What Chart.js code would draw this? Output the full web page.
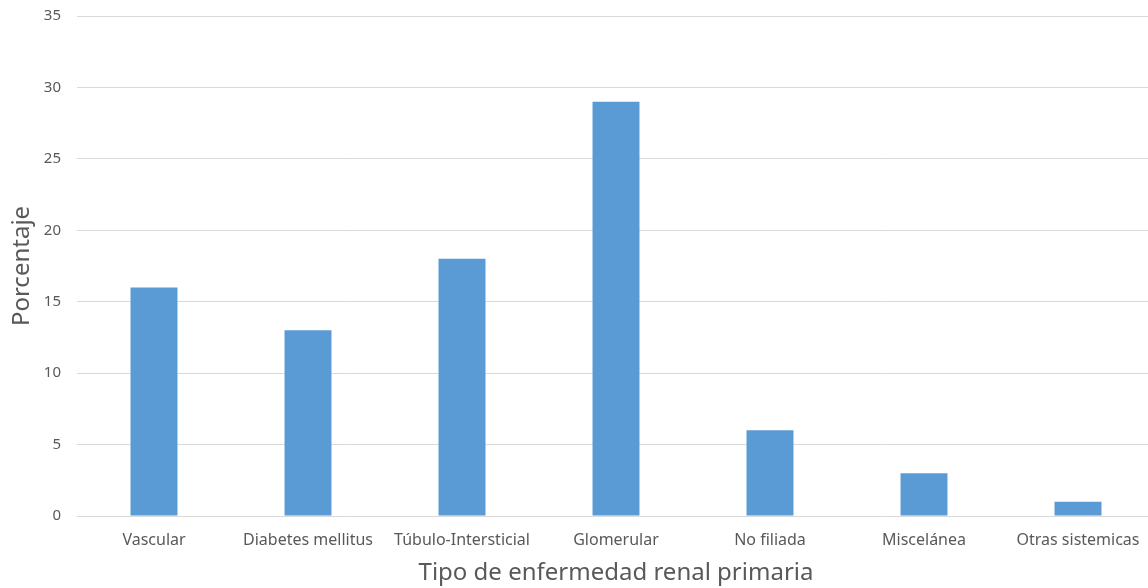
<!DOCTYPE html>
<html>
<head>
<meta charset="utf-8">
<script src="https://cdn.jsdelivr.net/npm/chart.js@4"></script>
<style>
  html, body { margin: 0; padding: 0; background: #fff; overflow: hidden; }
  #wrap { width: 1160px; height: 588px; }
</style>
</head>
<body>
<div id="wrap"><canvas id="chart" width="1160" height="588"></canvas></div>
<script>
    // Data
    const categories = ['Vascular', 'Diabetes mellitus', 'Túbulo-Intersticial', 'Glomerular', 'No filiada', 'Miscelánea', 'Otras sistemicas'];
    const percentages = [16, 13, 18, 29, 6, 3, 1];
    const yTicks = [0, 5, 10, 15, 20, 25, 30, 35];

    const textColor = '#595959';
    const fontFamily = '"Noto Sans", "Open Sans", sans-serif';

    new Chart(document.getElementById('chart'), {
        type: 'bar',
        data: {
            labels: categories,
            datasets: [{
                label: 'Porcentaje',
                data: percentages,
                backgroundColor: '#5B9BD5',
                borderWidth: 0,
                categoryPercentage: 1,
                barPercentage: 0.305
            }]
        },
        options: {
            responsive: false,
            animation: false,
            layout: { padding: { top: 16, right: 5, bottom: 0, left: 0 } },
            plugins: { legend: { display: false }, tooltip: { enabled: false } },
            scales: {
                y: {
                    min: yTicks[0],
                    max: yTicks[yTicks.length - 1],
                    afterBuildTicks: s => { s.ticks = yTicks.map(v => ({ value: v })); },
                    afterFit: s => { s.width = 77; s.paddingTop = 0; s.paddingBottom = 0; },
                    border: { display: false },
                    grid: { color: '#d9d9d9', drawTicks: false },
                    ticks: { padding: 16, color: textColor, font: { family: fontFamily, size: 15 } },
                    title: { display: true, text: 'Porcentaje', color: textColor, padding: { top: 8, bottom: 0 }, font: { family: fontFamily, size: 24 } }
                },
                x: {
                    afterFit: s => { s.height = 72; },
                    border: { display: false },
                    grid: { display: false, drawTicks: false },
                    ticks: { padding: 15, color: textColor, maxRotation: 0, autoSkip: false, font: { family: fontFamily, size: 16 } },
                    title: { display: true, text: 'Tipo de enfermedad renal primaria', color: textColor, padding: { top: 0, bottom: 0 }, font: { family: fontFamily, size: 24 } }
                }
            }
        }
    });
</script>
</body>
</html>
